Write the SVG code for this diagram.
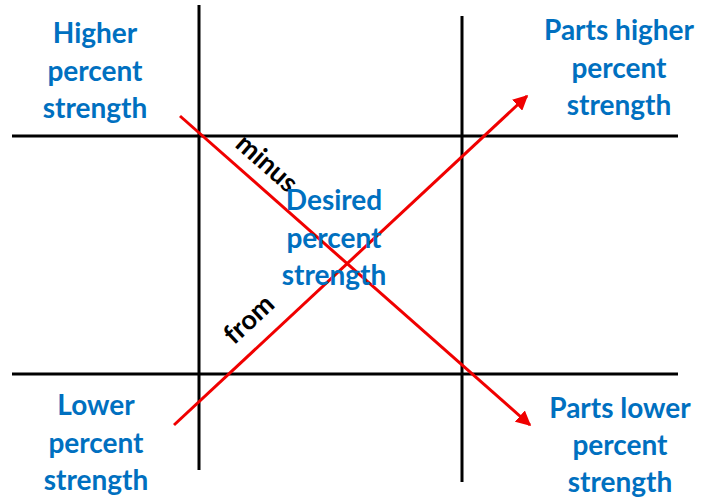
<svg xmlns="http://www.w3.org/2000/svg" width="701" height="500" viewBox="0 0 701 500">
<style>
.grid{stroke:#000;stroke-width:3;fill:none}
.red{stroke:#f00000;stroke-width:3;fill:none}
.lbl{font-family:Lato,"Open Sans",sans-serif;font-weight:bold;font-size:28px;fill:#0070C0;text-anchor:middle}
.op{font-family:Lato,"Open Sans",sans-serif;font-weight:bold;font-size:27px;fill:#000;text-anchor:middle}
</style>
<defs>
<marker id="ah" viewBox="0 0 10 10" refX="9" refY="5" markerWidth="5" markerHeight="5" orient="auto" markerUnits="strokeWidth">
<path d="M0,0 L10,5 L0,10 z" fill="#f00000"/>
</marker>
</defs>
<g id="grid">
<line class="grid" x1="199" y1="5" x2="199" y2="470"/>
<line class="grid" x1="462" y1="16" x2="462" y2="482"/>
<line class="grid" x1="12" y1="136" x2="678" y2="136"/>
<line class="grid" x1="12" y1="374" x2="678" y2="374"/>
</g>
<g id="connectors">
<line class="red" x1="180" y1="116" x2="530" y2="425" marker-end="url(#ah)"/>
<line class="red" x1="174" y1="425" x2="527" y2="96" marker-end="url(#ah)"/>
<text class="op" transform="translate(261,170) rotate(41.5)">minus</text>
<text class="op" transform="translate(255,326) rotate(-43)">from</text>
</g>
<g id="higher">
<text class="lbl" x="95" y="43">Higher</text>
<text class="lbl" x="95" y="81">percent</text>
<text class="lbl" x="95" y="118">strength</text>
</g>
<g id="parts-higher">
<text class="lbl" x="619" y="40">Parts higher</text>
<text class="lbl" x="619" y="78">percent</text>
<text class="lbl" x="619" y="115">strength</text>
</g>
<g id="desired">
<text class="lbl" x="334" y="210">Desired</text>
<text class="lbl" x="334" y="248">percent</text>
<text class="lbl" x="334" y="285">strength</text>
</g>
<g id="lower">
<text class="lbl" x="96" y="415">Lower</text>
<text class="lbl" x="96" y="453">percent</text>
<text class="lbl" x="96" y="490">strength</text>
</g>
<g id="parts-lower">
<text class="lbl" x="620" y="418">Parts lower</text>
<text class="lbl" x="620" y="455">percent</text>
<text class="lbl" x="620" y="492">strength</text>
</g>
</svg>
